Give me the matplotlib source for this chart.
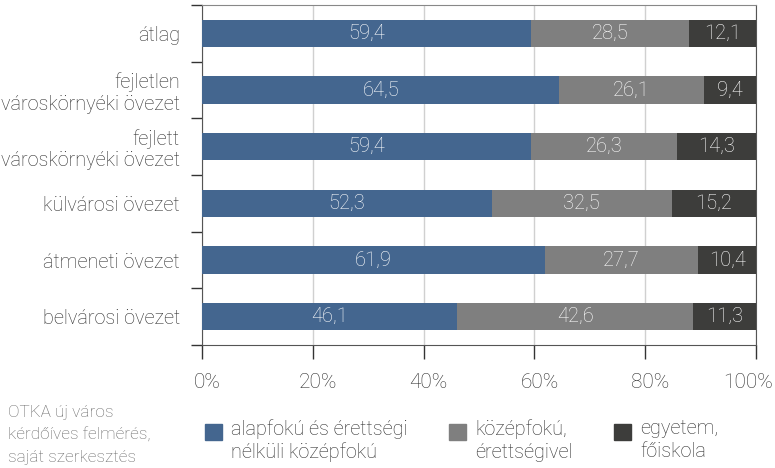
import matplotlib
matplotlib.use("Agg")
import matplotlib.pyplot as plt
from matplotlib.patches import Rectangle
import matplotlib.transforms as mtransforms
import numpy as np

categories = ["átlag", "fejletlen\nvároskörnyéki övezet", "fejlett\nvároskörnyéki övezet",
              "külvárosi övezet", "átmeneti övezet", "belvárosi övezet"]
series_names = ["alapfokú és érettségi\nnélküli középfokú", "középfokú,\nérettségivel", "egyetem,\nfőiskola"]
alapfoku = [59.4, 64.5, 59.4, 52.3, 61.9, 46.1]
kozepfoku = [28.5, 26.1, 26.3, 32.5, 27.7, 42.6]
egyetem = [12.1, 9.4, 14.3, 15.2, 10.4, 11.3]
xtick_labels = ["0%", "20%", "40%", "60%", "80%", "100%"]
source_text = "OTKA új város\nkérdőíves felmérés,\nsaját szerkesztés"

colors = ["#44668f", "#7f7f7f", "#3d3d3b"]
textc = "#2e2e2e"
plt.rcParams['font.family'] = ['Roboto', 'DejaVu Sans']
plt.rcParams['font.weight'] = 'light'

fig = plt.figure(figsize=(7.75, 4.68), dpi=100)
ax = fig.add_axes([202/775, 1-345/468, (756-202)/775, (345-5)/468])

y = np.arange(len(categories))
left = np.zeros(len(categories))
for vals, col in zip([alapfoku, kozepfoku, egyetem], colors):
    bars = ax.barh(y, vals, left=left, height=0.48, color=col, zorder=3)
    labels = [f"{v:.1f}".replace(".", ",") for v in vals]
    ax.bar_label(bars, labels=labels, label_type='center', color='white', fontsize=14.5, fontweight='light')
    left += np.array(vals)

ax.set_xlim(0, 100)
ax.set_ylim(len(categories)-0.5, -0.5)
ax.set_xticks(np.arange(0, 101, 20))
ax.set_xticklabels(xtick_labels, fontsize=15, color=textc)
ax.tick_params(axis='x', direction='out', length=10, width=1, color='#333333', pad=10)
lbls = ax.get_xticklabels()
for i, lb in enumerate(lbls):
    dx = -8 if i == len(lbls) - 1 else 5
    lb.set_transform(lb.get_transform() + mtransforms.ScaledTranslation(dx/100, 0, fig.dpi_scale_trans))
ax.set_yticks(np.arange(-0.5, len(categories), 1))
ax.set_yticklabels([])
ax.set_yticks(y, minor=True)
ax.set_yticklabels(categories, minor=True, fontsize=14.3, color=textc, linespacing=1.15)
ax.tick_params(axis='y', which='major', direction='out', length=8, width=1, color='#333333')
ax.tick_params(axis='y', which='minor', length=0, pad=16)
ax.grid(axis='x', color='#d0d0d0', linewidth=1, zorder=0)
for s in ['left', 'right', 'bottom']:
    ax.spines[s].set_color('#555555')
ax.spines['top'].set_color('#888888')

fig.text(8/775, 1-405/468, source_text, fontsize=12.4, color='#666666', va='top', ha='left', linespacing=1.6)

leg_x = [205, 449, 614]
for name, col, lx in zip(series_names, colors, leg_x):
    fig.add_artist(Rectangle((lx/775, 1-440/468), 17/775, 16/468, transform=fig.transFigure, color=col))
    fig.text((lx+26)/775, 1-419/468, name, fontsize=14.3, color=textc, va='top', ha='left', linespacing=1.25)

fig.savefig("out.png", dpi=100)
